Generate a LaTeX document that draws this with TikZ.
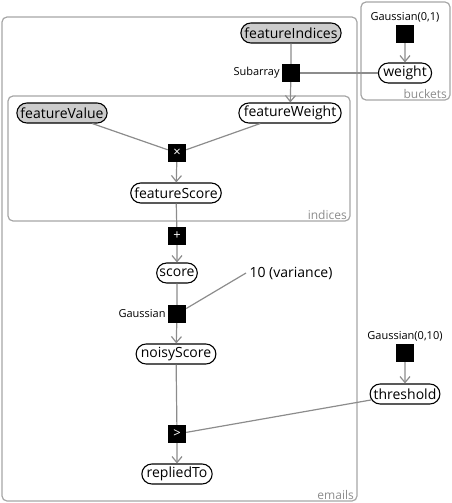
\documentclass[tikz,border=0pt]{standalone}
\usepackage{fontspec}
\setmainfont{Open Sans}
\usetikzlibrary{positioning,arrows.meta,shapes.misc}

\begin{document}
\begin{tikzpicture}[
		x=1pt,y=-1pt,                                   % 按像素坐标布局
		var/.style={draw,line width=1.1pt,rounded rectangle,minimum height=20pt,inner xsep=2pt,inner ysep=0pt,font=\fontsize{14}{15}\selectfont},
		obs/.style={var,fill=black!20},                 % 观测变量（灰色）
		factor/.style={fill=black,minimum size=18pt,inner sep=0pt,text=white,font=\fontsize{13}{13}\selectfont},
		plate/.style={draw=black!35,rounded corners=5pt,line width=1.2pt},
		platelabel/.style={text=black!45,font=\fontsize{12}{13}\selectfont,anchor=south east,inner sep=2pt},
		flabel/.style={font=\fontsize{11}{12}\selectfont,inner sep=1pt},
		edge/.style={draw=black!45,line width=1.2pt},
		arr/.style={edge,-{Straight Barb[length=6pt,width=10pt]}}
		]
		\useasboundingbox (0,0) rectangle (452,503);
		% 三个 plate
		\draw[plate] (2,17) rectangle (357,501);
		\draw[plate] (361,2) rectangle (450,100);
		\draw[plate] (8,96) rectangle (350,221);
		\node[platelabel] at (356,502) {emails};
		\node[platelabel] at (449,101) {buckets};
		\node[platelabel] at (349,222) {indices};
		
		% 变量节点
		\node[obs] (fidx) at (291,33) {featureIndices};
		\node[var] (weight) at (405,73) {weight};
		\node[obs] (fval) at (62,113) {featureValue};
		\node[var] (fw) at (290,113) {featureWeight};
		\node[var] (fs) at (176,193) {featureScore};
		\node[var] (score) at (177,273) {score};
		\node[var] (noisy) at (176,354) {noisyScore};
		\node[var] (replied) at (177,474) {repliedTo};
		\node[var] (thr) at (405,394) {threshold};
		\node[font=\fontsize{14}{15}\selectfont] (var10) at (291,273) {10 (variance)};
		
		% 因子节点
		\node[factor] (sub) at (291,73) {};
		\node[flabel,left=1pt of sub] (sublab) {Subarray};
		\node[factor] (gw) at (405,34) {};
		\node[flabel,above=1pt of gw] (gwlab) {Gaussian(0,1)};
		\node[factor] (times) at (177,153) {×};
		\node[factor] (plus) at (177,236) {+};
		\node[factor] (gauss) at (177,314) {};
		\node[flabel,left=1pt of gauss] (gausslab) {Gaussian};
		\node[factor] (gt) at (177,434) {>};
		\node[factor] (gthr) at (405,353) {};
		\node[flabel,above=1pt of gthr] (gthrlab) {Gaussian(0,10)};
		
		% 连线
		\draw[edge] (fidx) -- (sub);
		\draw[arr] (sub) -- (fw);
		\draw[edge] (weight) -- (sub);
		\draw[arr] (gw) -- (weight);
		\draw[edge] (fval) -- (times);
		\draw[edge] (fw) -- (times);
		\draw[arr] (times) -- (fs);
		\draw[edge] (fs) -- (plus);
		\draw[arr] (plus) -- (score);
		\draw[edge] (score) -- (gauss);
		\draw[edge] (var10.west) -- (gauss);
		\draw[arr] (gauss) -- (noisy);
		\draw[edge] (noisy) -- (gt);
		\draw[edge] (thr) -- (gt);
		\draw[arr] (gt) -- (replied);
		\draw[arr] (gthr) -- (thr);
	\end{tikzpicture}
\end{document}
